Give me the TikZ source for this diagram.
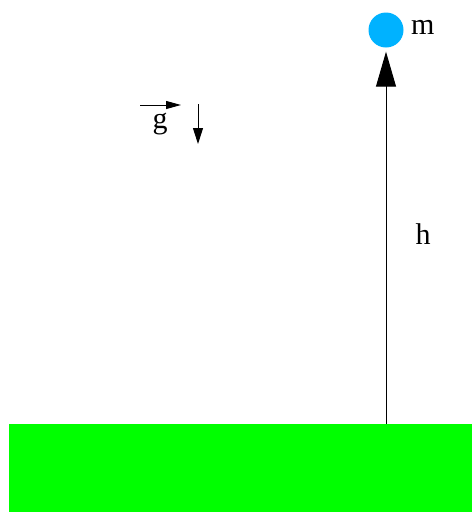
\documentclass[tikz,border=0pt]{standalone}
\usepackage{fontspec}
\setmainfont{Liberation Serif}
\usetikzlibrary{arrows.meta}
\definecolor{ballblue}{RGB}{0,178,255}
\definecolor{groundgreen}{RGB}{0,255,0}
\tikzset{
  lbl/.style={font=\fontsize{30}{30}\selectfont, inner sep=0pt}
}
\begin{document}
\begin{tikzpicture}[x=1pt,y=-1pt]
\useasboundingbox (0,0) rectangle (472,512);
\node[fill=groundgreen, minimum width=463pt, minimum height=88pt, inner sep=0pt, anchor=north west] (ground) at (9,424) {};
\node[circle, fill=ballblue, minimum size=35pt, inner sep=0pt] (ball) at (386,30) {};
\node[lbl, anchor=west] (m) at (411,27) {m};
\node[lbl] (h) at (423,234) {h};
\node[lbl] (g) at (160,124) {g};
\coordinate (base) at (ground.north -| ball);
\draw[line width=1pt, -{Triangle[length=35pt,width=20pt]}, shorten >=4pt] (base) -- (ball.south);
\coordinate (gv0) at (140,105);
\coordinate (gv1) at (181,105);
\draw[line width=1pt, -{Triangle[length=15pt,width=8pt]}] (gv0) -- (gv1);
\coordinate (gd0) at (198,104);
\coordinate (gd1) at (198,144);
\draw[line width=1pt, -{Triangle[length=16pt,width=10pt]}] (gd0) -- (gd1);
\end{tikzpicture}
\end{document}
